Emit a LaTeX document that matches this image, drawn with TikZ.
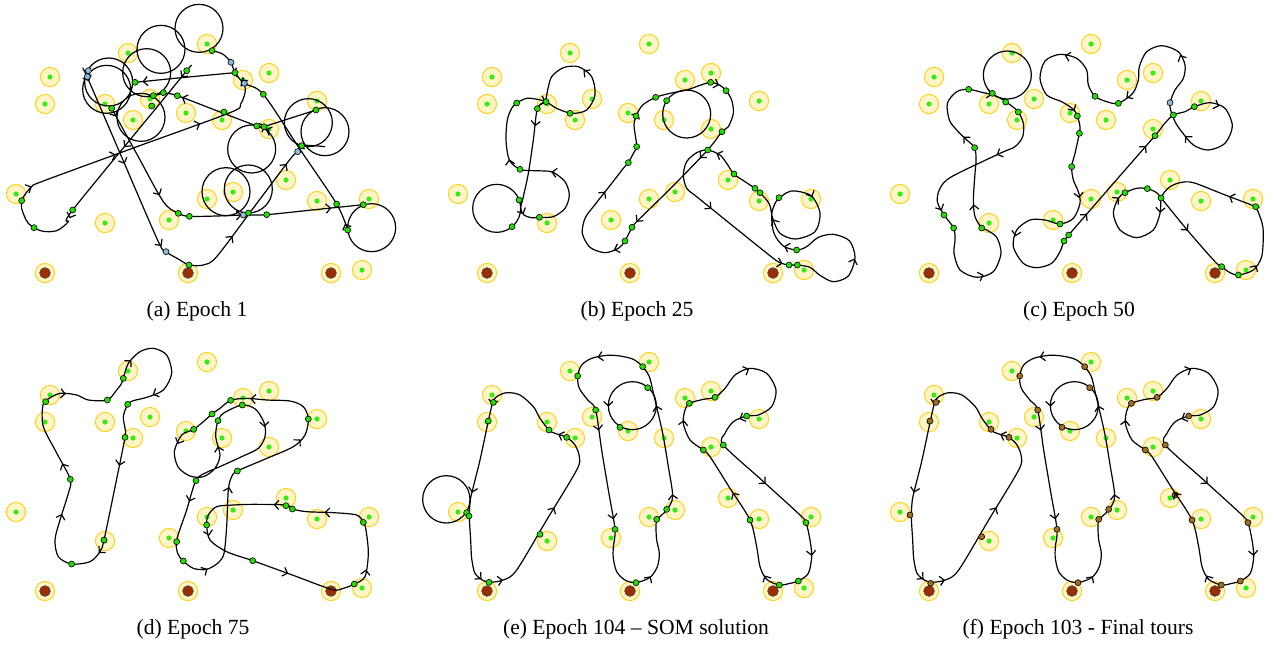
\documentclass[tikz,border=0pt]{standalone}
\usepackage{fontspec}
\setmainfont{Liberation Serif}
\usetikzlibrary{arrows.meta,decorations.markings}

\definecolor{ringgold}{HTML}{FFD21A}
\definecolor{ringfill}{HTML}{FFF5C8}
\definecolor{targetgreen}{HTML}{33EE11}
\definecolor{depotbrown}{HTML}{9A2E00}
\definecolor{waygreen}{HTML}{22DD00}
\definecolor{wayblue}{HTML}{88BBDD}
\definecolor{wayochre}{HTML}{A07020}

\tikzset{
  target/.style={circle, draw=ringgold, fill=ringfill, line width=0.5pt, minimum size=9.6pt, inner sep=0pt},
  tdot/.style={circle, fill=targetgreen, minimum size=2.6pt, inner sep=0pt},
  depot/.style={circle, draw=black!70, fill=depotbrown, line width=0.3pt, minimum size=5.4pt, inner sep=0pt},
  way/.style={circle, draw=black, fill=#1, line width=0.3pt, minimum size=3pt, inner sep=0pt},
  way/.default=waygreen,
  loopline/.style={line width=0.6pt},
  looparrow/.style={line width=0.6pt, -{Straight Barb[length=2.2pt,width=4.6pt]}},
  tourline/.style={draw, line width=0.6pt},
  tourmarks/.style={postaction={decorate},
    decoration={markings, mark=between positions 0.03 and 0.99 step 45pt with {\arrow[line width=0.6pt]{Straight Barb[length=2.2pt,width=4.6pt]}}}},
  caption/.style={font=\fontsize{10.8}{13}\selectfont}
}
% a tour: smooth line, arrows taken along the polygon of the same points
\newcommand\tourcycle[1]{%
  \draw[tourline] plot[smooth cycle, tension=0.5] coordinates {#1};
  \path[tourmarks] plot[sharp cycle] coordinates {#1};}
\newcommand\touropen[1]{%
  \draw[tourline] plot[smooth, tension=0.5] coordinates {#1};
  \path[tourmarks] plot coordinates {#1};}

\begin{document}
\begin{tikzpicture}[x=0.5pt,y=-0.5pt]
  \useasboundingbox (0,0) rectangle (1272,644);

  % targets and depots, the same in every panel
  \foreach \px/\py [count=\p] in {0/0,442/0,884/0,0/318,442/318,884/318}{
    \begin{scope}[shift={(\px,\py)}]
      \foreach \x/\y [count=\i] in {50/77,45/104,128/53,207/44,269/73,243/80,105/104,150/99,133/120,186/113,222/120,269/129,317/101,286/180,207/199,233/192,317/201,369/199,16/194,105/223,169/220,362/270}{
        \node[target] (t\p-\i) at (\x,\y) {};
        \node[tdot] (g\p-\i) at (\x,\y) {};
      }
      \foreach \x [count=\i] in {45,188,331}{
        \node[target] (r\p-\i) at (\x,273) {};
        \node[depot] (d\p-\i) at (\x,273) {};
      }
    \end{scope}
  }

  % (a) epoch 1
  \begin{scope}[shift={(0,0)},scale=1/3]
    \draw[loopline] (597,85) circle[radius=72] (483,148) circle[radius=72] (326,246) circle[radius=72]
      (320,268) circle[radius=72] (440,218) circle[radius=72] (423,352) circle[radius=72]
      (755,447) circle[radius=72] (925,368) circle[radius=72] (975,395) circle[radius=72]
      (678,575) circle[radius=72] (745,567) circle[radius=72] (1115,683) circle[radius=72];
    \touropen{(575,195) (560,212) (490,298) (218,630) (205,665) (170,692) (125,693) (85,670) (65,625) (68,595) (95,560) (130,543) (400,444) (690,338) (722,312) (736,272) (728,232)}
    \touropen{(808,392) (770,378) (650,332) (532,287) (495,280) (462,287)}
    \touropen{(250,210) (262,232) (368,478) (475,725) (498,755) (540,780) (567,795) (610,795) (650,770) (760,624) (870,478) (893,455) (905,437) (940,437) (975,440)}
    \touropen{(335,325) (412,465) (490,605) (535,640) (568,649) (650,648) (730,645) (800,644) (945,629) (1090,614)}
    \touropen{(1043,690) (1010,612) (900,448) (790,283) (733,250) (705,218) (693,187) (668,162) (636,152)}
    \touropen{(705,218) (555,232) (405,247)}
    \touropen{(792,380) (870,355) (948,330)}
    \foreach \x/\y [count=\i] in {636/152,560/212,405/247,490/278,532/287,460/287,455/318,335/325,705/218,790/283,672/336,770/378,792/380,948/330,905/437,535/640,568/649,745/639,800/644,1090/614,1010/612,1043/690,567/795,218/630,102/683,65/602}
      \node[way] (wa\i) at (\x,\y) {};
    \foreach \x/\y [count=\i] in {265/212,262/230,693/187,733/250,498/755,730/645,893/455}
      \node[way=wayblue] (wab\i) at (\x,\y) {};
  \end{scope}

  % (b) epoch 25
  \begin{scope}[shift={(420,0)},scale=1/3]
    \draw[loopline] (230,625) circle[radius=72] (800,342) circle[radius=72];
    \tourcycle{(300,508) (268,480) (258,420) (262,360) (275,325) (290,309) (320,295) (352,298) (378,305) (410,325) (455,340) (500,330) (525,285) (515,230) (475,200) (430,203) (395,230) (383,270) (375,305) (352,326) (340,420) (325,520) (310,590) (302,625) (312,645) (335,653) (358,652) (400,650) (435,625) (448,585) (435,545) (400,517) (375,513) (340,512)}
    \tourcycle{(615,723) (595,745) (555,758) (510,742) (487,700) (495,655) (520,620) (565,563) (610,505) (625,488) (640,460) (650,440) (645,400) (642,375) (648,348) (668,315) (707,292) (750,280) (800,270) (840,256) (872,247) (900,256) (918,272) (935,300) (940,340) (925,380) (906,395) (863,450) (757,560) (650,665) (636,682)}
    \tourcycle{(830,590) (945,683) (1060,775) (1085,790) (1107,795) (1132,795) (1170,802) (1200,826) (1240,845) (1285,828) (1305,772) (1288,722) (1240,703) (1195,712) (1160,740) (1130,750) (1090,738) (1062,700) (1055,645) (1068,605) (1100,578) (1127,573) (1175,588) (1200,640) (1185,695) (1127,717) (1080,700) (1058,655) (1048,612) (1020,578) (1005,565) (975,545) (942,522) (920,490) (900,465) (863,450) (830,458) (800,485) (790,525) (800,565)}
    \foreach \x/\y [count=\i] in {290/309,352/326,378/305,450/340,300/508,297/600,276/680,358/652,648/348,707/292,740/302,872/247,918/272,906/395,863/450,650/440,625/488,636/682,615/723,942/522,1005/565,1020/578,1077/593,1130/750,1107/795,1132/795}
      \node[way] (wb\i) at (\x,\y) {};
  \end{scope}

  % (c) epoch 50
  \begin{scope}[shift={(860,0)},scale=1/3]
    \draw[loopline] (442,225) circle[radius=72];
    \tourcycle{(344,443) (318,418) (290,390) (268,360) (262,310) (290,275) (326,268) (370,278) (397,284) (425,297) (455,318) (475,336) (490,370) (488,410) (465,440) (420,460) (275,530) (240,565) (232,605) (252,645) (281,684) (285,720) (282,760) (300,810) (350,832) (400,815) (423,760) (410,712) (380,690) (365,684) (345,650) (340,600) (345,520) (348,480)}
    \tourcycle{(626,705) (755,556) (885,407) (910,375) (940,345) (975,335) (1003,320) (1050,308) (1095,325) (1117,378) (1095,430) (1045,450) (1000,435) (965,395) (945,365) (932,330) (930,308) (945,270) (970,235) (975,195) (955,155) (905,137) (860,155) (838,200) (835,240) (818,280) (775,310) (740,305) (705,289) (685,255) (680,210) (650,175) (600,163) (555,183) (540,235) (560,285) (605,305) (640,328) (652,348) (660,380) (658,400) (645,460) (635,500) (640,540) (655,575) (660,610) (640,655) (600,672) (555,660) (510,660) (470,690) (460,740) (490,790) (530,803) (575,790) (600,755) (612,723)}
    \tourcycle{(903,598) (900,640) (880,690) (830,713) (780,690) (760,640) (775,595) (795,578) (830,565) (862,566) (890,578) (905,596) (985,694) (1065,785) (1085,800) (1110,818) (1135,825) (1180,810) (1205,770) (1210,700) (1205,665) (1190,625) (1187,620) (1093,584) (1000,548) (960,548) (930,560) (912,578)}
    \foreach \x/\y [count=\i] in {326/268,397/280,437/306,475/336,344/443,252/645,281/684,365/684,705/289,775/310,652/348,658/400,635/500,600/672,626/705,612/723,885/407,940/345,1003/320,795/578,862/566,903/594,1187/620,1085/800,1135/825}
      \node[way] (wc\i) at (\x,\y) {};
    \node[way=wayblue] (wcb) at (930,308) {};
  \end{scope}

  % (d) epoch 75
  \begin{scope}[shift={(0,340)},scale=1/3]
    \tourcycle{(211,418) (170,339) (130,260) (128,200) (140,180) (180,160) (230,165) (265,180) (322,180) (350,150) (365,130) (370,115) (385,70) (420,35) (460,25) (500,45) (515,100) (490,150) (440,172) (400,182) (383,193) (370,230) (375,265) (375,292) (344,446) (312,600) (300,635) (270,665) (215,672) (175,650) (165,600) (180,540) (205,460)}
    \tourcycle{(588,421) (559,513) (530,600) (533,640) (550,663) (580,685) (620,688) (655,668) (672,640) (680,560) (685,450) (695,410) (712,393) (796,357) (880,320) (915,285) (925,237) (910,200) (870,183) (800,180) (740,175) (692,181) (660,205) (636,222) (610,245) (581,268) (545,285) (523,335) (535,382) (570,408) (610,410) (645,385) (660,345) (647,290) (654,242) (673,218) (727,195) (767,208) (793,250) (795,290) (775,325) (725,350) (655,382) (620,397)}
    \tourcycle{(858,495) (760,493) (700,495) (650,500) (625,525) (620,555) (630,600) (680,635) (758,662) (877,705) (995,748) (1030,745) (1063,732) (1095,710) (1105,640) (1098,570) (1090,547) (1070,525) (1000,518) (920,515) (877,507)}
    \foreach \x/\y [count=\i] in {211/418,137/185,322/180,370/115,383/193,375/292,312/600,215/672,692/181,727/195,636/222,654/242,581/268,588/422,712/393,925/237,530/605,550/663,620/555,758/662,1063/732,1090/547,877/507,858/497}
      \node[way] (wd\i) at (\x,\y) {};
  \end{scope}

  % (e) epoch 104 and (f) epoch 103
  \begin{scope}[shift={(420,340)},scale=1/3]
    \draw[loopline] (79,478) circle[radius=71];
    \tourcycle{(207,727) (250,720) (290,690) (380,540) (470,390) (478,350) (465,315) (440,292) (405,280) (387,270) (360,235) (340,200) (300,165) (260,158) (230,170) (218,188) (205,243) (180,360) (160,440) (151,480) (148,530) (152,600) (155,655) (165,700) (190,722)}
    \foreach \x/\y [count=\i] in {207/727,360/583,440/292,387/270,220/187,205/243,140/518,147/528}
      \node[way] (we\i) at (\x,\y) {};
  \end{scope}
  \begin{scope}[shift={(862,340)},scale=1/3]
    \tourcycle{(207,727) (250,720) (290,690) (380,540) (470,390) (478,350) (465,315) (440,292) (405,280) (387,270) (360,235) (340,200) (300,165) (260,158) (230,170) (218,188) (205,243) (180,360) (160,440) (151,480) (148,530) (152,600) (155,655) (165,700) (190,722)}
    \foreach \x/\y [count=\i] in {206/730,359/590,441/292,387/268,222/187,204/243,144/525,939/465}
      \node[way=wayochre] (wf\i) at (\x,\y) {};
  \end{scope}
  \foreach \sx/\wc [count=\k] in {420/waygreen,862/wayochre}{
    \begin{scope}[shift={(\sx,340)},scale=1/3]
      \draw[loopline] (637,197) circle[radius=72];
      \draw[looparrow] (565,188) -- (565,200);
      \tourcycle{(648,728) (690,712) (712,680) (718,640) (710,600) (708,560) (712,538) (740,510) (758,470) (745,380) (730,290) (718,235) (709,197) (698,150) (688,110) (668,80) (640,58) (600,48) (560,46) (515,55) (485,75) (473,108) (478,145) (505,182) (527,210) (545,330) (565,450) (585,568) (580,620) (580,655) (590,695) (615,720)}
      \tourcycle{(1078,735) (1040,718) (1020,680) (1010,620) (990,540) (930,445) (870,350) (850,330) (810,300) (790,250) (795,210) (808,190) (850,178) (885,172) (915,145) (945,105) (990,85) (1040,100) (1068,150) (1055,200) (1015,225) (980,228) (940,245) (915,280) (910,315) (1025,420) (1140,525) (1158,548) (1170,600) (1175,650) (1165,700) (1135,723) (1110,730)}
      \foreach \x/\y [count=\i] in {648/728,710/538,740/508,683/143,668/80,600/262,473/108,527/210,585/568,1078/735,1135/723,1158/548,910/315,980/228,885/172,808/190,850/330,990/540}
        \node[way=\wc] (wm\k-\i) at (\x,\y) {};
    \end{scope}
  }

  \node[caption] (cap-a) at (197,311) {(a) Epoch 1};
  \node[caption] (cap-b) at (637,311) {(b) Epoch 25};
  \node[caption] (cap-c) at (1079,311) {(c) Epoch 50};
  \node[caption] (cap-d) at (193,629) {(d) Epoch 75};
  \node[caption] (cap-e) at (636,629) {(e) Epoch 104 -- SOM solution};
  \node[caption] (cap-f) at (1078,629) {(f) Epoch 103 - Final tours};

\end{tikzpicture}
\end{document}
